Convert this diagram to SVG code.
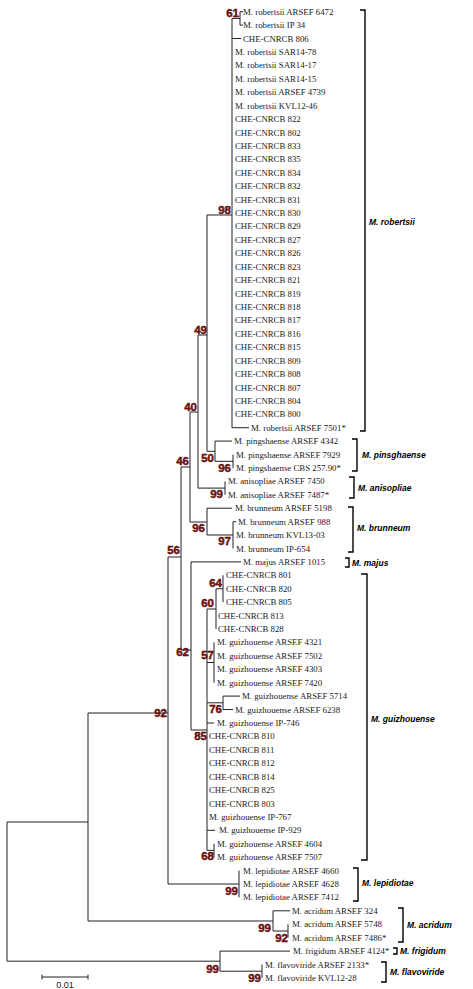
<svg xmlns="http://www.w3.org/2000/svg" width="473" height="989" viewBox="0 0 473 989">
<style>
.lf{font-family:"Liberation Serif",serif;font-size:8.8px;fill:#1a1a1a}
.cl{font-family:"Liberation Sans",sans-serif;font-weight:bold;font-style:italic;font-size:8.5px;fill:#000}
.bs{font-family:"Liberation Sans",sans-serif;font-weight:bold;font-size:11.5px;fill:#8a1010;stroke:#300;stroke-width:0.4;text-anchor:end}
.ln{fill:none;stroke:#222;stroke-width:1}
.br{fill:none;stroke:#000;stroke-width:1.4}
</style>
<rect width="473" height="989" fill="#fff"/>
<g id="connectors" class="ln">
<path d="M240,11.7V25.1M240,11.7H243M240,25.1H243M232,18.4H240"/>
<path d="M232,18.4V427.7M232,38.5H241M232,427.7H249M207,215H232"/>
<path d="M207,215V451.3M198,335H207"/>
<path d="M215,441.1V461.3M215,441.1H232M215,461.3H233M207,451.3H215"/>
<path d="M233,454.6V468"/>
<path d="M198,335V488.1M190,412H198"/>
<path d="M225,481.4V494.8M198,488.1H225"/>
<path d="M190,412V522M181,467H190"/>
<path d="M207,508.2V535M207,508.2H232M207,535H233M190,522H207"/>
<path d="M233,521.7V548.5M233,521.7H236"/>
<path d="M181,467V650M168,557H181"/>
<path d="M191,561.9V730M191,561.9H241M181,650H191"/>
<path d="M207,609V850.4M191,730H207"/>
<path d="M216,588.8V629M207,609H216M216,588.8H223"/>
<path d="M223,575.3V602.2"/>
<path d="M214,642.4V682.7M207,662.5H214"/>
<path d="M223,696.1V709.5M223,696.1H240M223,709.5H233M207,702.8H223"/>
<path d="M207,723H214M207,830.3H215"/>
<path d="M214,843.7V857.2M207,850.4H214"/>
<path d="M168,557V884M88,713H168"/>
<path d="M239,870.6V897.4M168,884H239"/>
<path d="M88,713V921M7,822H88"/>
<path d="M273,910.8V931M273,910.8H290M88,921H273"/>
<path d="M288,924.3V937.7M273,931H288"/>
<path d="M7,822V961.2"/>
<path d="M220,951.1V971.2M220,951.1H290M7,961.2H220"/>
<path d="M262,964.5V977.9M220,971.2H262"/>
<path d="M42,977H88M42,974.5V979.5M88,974.5V979.5"/>
</g>
<g id="brackets" class="br">
<path d="M360,10H365V431H360"/>
<path d="M352,439H357V471H352"/>
<path d="M349,477H354V498H349"/>
<path d="M348,507H353V552H348"/>
<path d="M345,558H349V567H345"/>
<path d="M361,574H367V860H361"/>
<path d="M353,868H358V901H353"/>
<path d="M398,908H403V942H398"/>
<path d="M393,948H397V954H393"/>
<path d="M381,962H386V982H381"/>
</g>
<g id="leaves">
<g id="l0"><text class="lf" x="243" y="14.7">M. robertsii ARSEF 6472</text></g>
<g id="l1"><text class="lf" x="243" y="28.1">M. robertsii IP 34</text></g>
<g id="l2"><text class="lf" x="243" y="41.5">CHE-CNRCB 806</text></g>
<g id="l3"><text class="lf" x="235" y="55">M. robertsii SAR14-78</text></g>
<g id="l4"><text class="lf" x="235" y="68.4">M. robertsii SAR14-17</text></g>
<g id="l5"><text class="lf" x="235" y="81.8">M. robertsii SAR14-15</text></g>
<g id="l6"><text class="lf" x="235" y="95.2">M. robertsii ARSEF 4739</text></g>
<g id="l7"><text class="lf" x="235" y="108.6">M. robertsii KVL12-46</text></g>
<g id="l8"><text class="lf" x="235" y="122.1">CHE-CNRCB 822</text></g>
<g id="l9"><text class="lf" x="235" y="135.5">CHE-CNRCB 802</text></g>
<g id="l10"><text class="lf" x="235" y="148.9">CHE-CNRCB 833</text></g>
<g id="l11"><text class="lf" x="235" y="162.3">CHE-CNRCB 835</text></g>
<g id="l12"><text class="lf" x="235" y="175.7">CHE-CNRCB 834</text></g>
<g id="l13"><text class="lf" x="235" y="189.2">CHE-CNRCB 832</text></g>
<g id="l14"><text class="lf" x="235" y="202.6">CHE-CNRCB 831</text></g>
<g id="l15"><text class="lf" x="235" y="216">CHE-CNRCB 830</text></g>
<g id="l16"><text class="lf" x="235" y="229.4">CHE-CNRCB 829</text></g>
<g id="l17"><text class="lf" x="235" y="242.8">CHE-CNRCB 827</text></g>
<g id="l18"><text class="lf" x="235" y="256.3">CHE-CNRCB 826</text></g>
<g id="l19"><text class="lf" x="235" y="269.7">CHE-CNRCB 823</text></g>
<g id="l20"><text class="lf" x="235" y="283.1">CHE-CNRCB 821</text></g>
<g id="l21"><text class="lf" x="235" y="296.5">CHE-CNRCB 819</text></g>
<g id="l22"><text class="lf" x="235" y="309.9">CHE-CNRCB 818</text></g>
<g id="l23"><text class="lf" x="235" y="323.4">CHE-CNRCB 817</text></g>
<g id="l24"><text class="lf" x="235" y="336.8">CHE-CNRCB 816</text></g>
<g id="l25"><text class="lf" x="235" y="350.2">CHE-CNRCB 815</text></g>
<g id="l26"><text class="lf" x="235" y="363.6">CHE-CNRCB 809</text></g>
<g id="l27"><text class="lf" x="235" y="377">CHE-CNRCB 808</text></g>
<g id="l28"><text class="lf" x="235" y="390.5">CHE-CNRCB 807</text></g>
<g id="l29"><text class="lf" x="235" y="403.9">CHE-CNRCB 804</text></g>
<g id="l30"><text class="lf" x="235" y="417.3">CHE-CNRCB 800</text></g>
<g id="l31"><text class="lf" x="251" y="430.7">M. robertsii ARSEF 7501*</text></g>
<g id="l32"><text class="lf" x="234" y="444.1">M. pingshaense ARSEF 4342</text></g>
<g id="l33"><text class="lf" x="236" y="457.6">M. pingshaense ARSEF 7929</text></g>
<g id="l34"><text class="lf" x="236" y="471">M. pingshaense CBS 257.90*</text></g>
<g id="l35"><text class="lf" x="228" y="484.4">M. anisopliae ARSEF 7450</text></g>
<g id="l36"><text class="lf" x="228" y="497.8">M. anisopliae ARSEF 7487*</text></g>
<g id="l37"><text class="lf" x="235" y="511.2">M. brunneum ARSEF 5198</text></g>
<g id="l38"><text class="lf" x="238" y="524.7">M. brunneum ARSEF 988</text></g>
<g id="l39"><text class="lf" x="236" y="538.1">M. brunneum KVL13-03</text></g>
<g id="l40"><text class="lf" x="236" y="551.5">M. brunneum IP-654</text></g>
<g id="l41"><text class="lf" x="243" y="564.9">M. majus ARSEF 1015</text></g>
<g id="l42"><text class="lf" x="226" y="578.3">CHE-CNRCB 801</text></g>
<g id="l43"><text class="lf" x="226" y="591.8">CHE-CNRCB 820</text></g>
<g id="l44"><text class="lf" x="226" y="605.2">CHE-CNRCB 805</text></g>
<g id="l45"><text class="lf" x="218" y="618.6">CHE-CNRCB 813</text></g>
<g id="l46"><text class="lf" x="218" y="632">CHE-CNRCB 828</text></g>
<g id="l47"><text class="lf" x="217" y="645.4">M. guizhouense ARSEF 4321</text></g>
<g id="l48"><text class="lf" x="217" y="658.9">M. guizhouense ARSEF 7502</text></g>
<g id="l49"><text class="lf" x="217" y="672.3">M. guizhouense ARSEF 4303</text></g>
<g id="l50"><text class="lf" x="217" y="685.7">M. guizhouense ARSEF 7420</text></g>
<g id="l51"><text class="lf" x="242" y="699.1">M. guizhouense ARSEF 5714</text></g>
<g id="l52"><text class="lf" x="235" y="712.5">M. guizhouense ARSEF 6238</text></g>
<g id="l53"><text class="lf" x="217" y="726">M. guizhouense IP-746</text></g>
<g id="l54"><text class="lf" x="209" y="739.4">CHE-CNRCB 810</text></g>
<g id="l55"><text class="lf" x="209" y="752.8">CHE-CNRCB 811</text></g>
<g id="l56"><text class="lf" x="209" y="766.2">CHE-CNRCB 812</text></g>
<g id="l57"><text class="lf" x="209" y="779.6">CHE-CNRCB 814</text></g>
<g id="l58"><text class="lf" x="209" y="793.1">CHE-CNRCB 825</text></g>
<g id="l59"><text class="lf" x="209" y="806.5">CHE-CNRCB 803</text></g>
<g id="l60"><text class="lf" x="209" y="819.9">M. guizhouense IP-767</text></g>
<g id="l61"><text class="lf" x="219" y="833.3">M. guizhouense IP-929</text></g>
<g id="l62"><text class="lf" x="217" y="846.7">M. guizhouense ARSEF 4604</text></g>
<g id="l63"><text class="lf" x="217" y="860.2">M. guizhouense ARSEF 7507</text></g>
<g id="l64"><text class="lf" x="243" y="873.6">M. lepidiotae ARSEF 4660</text></g>
<g id="l65"><text class="lf" x="243" y="887">M. lepidiotae ARSEF 4628</text></g>
<g id="l66"><text class="lf" x="243" y="900.4">M. lepidiotae ARSEF 7412</text></g>
<g id="l67"><text class="lf" x="292" y="913.8">M. acridum ARSEF 324</text></g>
<g id="l68"><text class="lf" x="292" y="927.3">M. acridum ARSEF 5748</text></g>
<g id="l69"><text class="lf" x="292" y="940.7">M. acridum ARSEF 7486*</text></g>
<g id="l70"><text class="lf" x="293" y="954.1">M. frigidum ARSEF 4124*</text></g>
<g id="l71"><text class="lf" x="265" y="967.5">M. flavoviride ARSEF 2133*</text></g>
<g id="l72"><text class="lf" x="265" y="980.9">M. flavoviride KVL12-28</text></g>
</g>
<g id="bootstrap">
<g id="b61"><text class="bs" x="239" y="17">61</text></g>
<g id="b98"><text class="bs" x="231" y="214">98</text></g>
<g id="b49"><text class="bs" x="207" y="334">49</text></g>
<g id="b40"><text class="bs" x="197" y="411">40</text></g>
<g id="b50"><text class="bs" x="214" y="462">50</text></g>
<g id="b96p"><text class="bs" x="231" y="472">96</text></g>
<g id="b99a"><text class="bs" x="223" y="498">99</text></g>
<g id="b46"><text class="bs" x="189" y="465">46</text></g>
<g id="b96b"><text class="bs" x="205" y="532">96</text></g>
<g id="b97"><text class="bs" x="231" y="545">97</text></g>
<g id="b56"><text class="bs" x="180" y="554">56</text></g>
<g id="b64"><text class="bs" x="222" y="587">64</text></g>
<g id="b60"><text class="bs" x="214" y="607">60</text></g>
<g id="b62"><text class="bs" x="189" y="656">62</text></g>
<g id="b57"><text class="bs" x="214" y="659">57</text></g>
<g id="b76"><text class="bs" x="222" y="713">76</text></g>
<g id="b85"><text class="bs" x="207" y="740">85</text></g>
<g id="b92"><text class="bs" x="167" y="717">92</text></g>
<g id="b68"><text class="bs" x="214" y="860">68</text></g>
<g id="b99l"><text class="bs" x="238" y="895">99</text></g>
<g id="b99c"><text class="bs" x="271" y="932">99</text></g>
<g id="b92c"><text class="bs" x="288" y="942">92</text></g>
<g id="b99f"><text class="bs" x="219" y="973">99</text></g>
<g id="b99v"><text class="bs" x="261" y="982">99</text></g>
</g>
<g id="clades">
<g id="c-robertsii"><text class="cl" x="369" y="225">M. robertsii</text></g>
<g id="c-pingshaense"><text class="cl" x="362" y="458">M. pinsghaense</text></g>
<g id="c-anisopliae"><text class="cl" x="358" y="491">M. anisopliae</text></g>
<g id="c-brunneum"><text class="cl" x="357" y="531">M. brunneum</text></g>
<g id="c-majus"><text class="cl" x="352" y="566">M. majus</text></g>
<g id="c-guizhouense"><text class="cl" x="371" y="722">M. guizhouense</text></g>
<g id="c-lepidiotae"><text class="cl" x="362" y="886">M. lepidiotae</text></g>
<g id="c-acridum"><text class="cl" x="407" y="928">M. acridum</text></g>
<g id="c-frigidum"><text class="cl" x="400" y="954">M. frigidum</text></g>
<g id="c-flavoviride"><text class="cl" x="390" y="975">M. flavoviride</text></g>
</g>
<g id="scale"><text x="65" y="988" text-anchor="middle" style="font-family:'Liberation Sans',sans-serif;font-size:9px;fill:#222">0.01</text></g>
</svg>
